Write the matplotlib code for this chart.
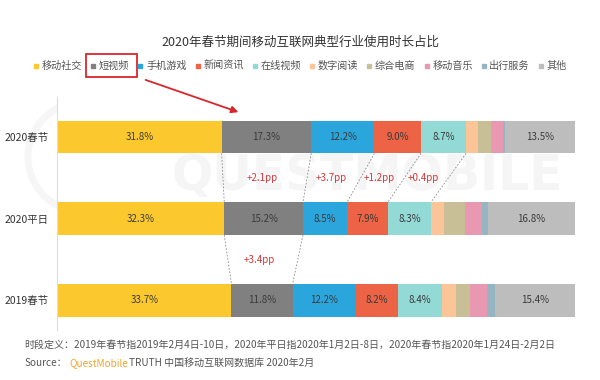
import numpy as np
import matplotlib
matplotlib.use('Agg')
import matplotlib.pyplot as plt
from matplotlib.patches import Rectangle, Ellipse, FancyArrowPatch
from matplotlib.lines import Line2D

plt.rcParams['font.family'] = ['Noto Sans CJK SC', 'DejaVu Sans']

# data (share of usage time, %)
periods = ['2020春节', '2020平日', '2019春节']
categories = ['移动社交', '短视频', '手机游戏', '新闻资讯', '在线视频',
              '数字阅读', '综合电商', '移动音乐', '出行服务', '其他']
share_2020_spring = [31.8, 17.3, 12.2, 9.0, 8.7, 2.4, 2.5, 2.2, 0.4, 13.5]
share_2020_weekday = [32.3, 15.2, 8.5, 7.9, 8.3, 2.5, 4.0, 3.4, 1.1, 16.8]
share_2019_spring = [33.7, 11.8, 12.2, 8.2, 8.4, 2.8, 2.7, 3.3, 1.5, 15.4]
colors = ['#FBC92D', '#808080', '#2BA6DD', '#EC6345', '#93DAD6',
          '#FBC597', '#C8BF97', '#E898B1', '#95B5C2', '#BDBDBE']
labeled = [0, 1, 2, 3, 4, 9]

# pp changes shown between rows: (upper row, lower row, category index, text)
changes = [(0, 1, 1, '+2.1pp'), (0, 1, 2, '+3.7pp'), (0, 1, 3, '+1.2pp'),
           (0, 1, 4, '+0.4pp'), (1, 2, 1, '+3.4pp')]
# boundaries joined with dashed lines: (upper row, lower row, number of segments before)
links = [(0, 1, 1), (0, 1, 2), (0, 1, 3), (0, 1, 4), (0, 1, 5),
         (1, 2, 1), (1, 2, 2)]

rows = [share_2020_spring, share_2020_weekday, share_2019_spring]
bar_h = 0.4

fig = plt.figure(figsize=(6, 3.8), dpi=100)
ax = fig.add_axes([0.095, 0.132, 0.863, 0.613])

# faint watermark
ax.text(0.60, 0.66, 'QUESTMOBILE', transform=ax.transAxes, ha='center', va='center',
        fontsize=35, color='#f5f5f5', fontweight='bold', family='DejaVu Sans', zorder=0)
fig.add_artist(Ellipse((83 / 600, 1 - 157 / 380), 110 / 600, 110 / 380,
                       transform=fig.transFigure, fill=False, lw=5, ec='#f6f6f6', zorder=0))

for r, vals in enumerate(rows):
    left = np.concatenate([[0], np.cumsum(vals)[:-1]])
    ax.barh(r, vals, left=left, height=bar_h, color=colors, zorder=2)
    for i in labeled:
        ax.text(left[i] + vals[i] / 2, r, f'{vals[i]:.1f}%', ha='center', va='center',
                fontsize=7, color='#3a3a3a', zorder=3)

for up, lo, k in links:
    x_up = sum(rows[up][:k])
    x_lo = sum(rows[lo][:k])
    ax.plot([x_up, x_lo], [up + bar_h / 2, lo - bar_h / 2], ls=(0, (2, 2)),
            lw=0.6, color='#8a8a8a', zorder=1)

for up, lo, i, txt in changes:
    mid_up = sum(rows[up][:i]) + rows[up][i] / 2
    mid_lo = sum(rows[lo][:i]) + rows[lo][i] / 2
    ax.text((mid_up + mid_lo) / 2 - 0.6, (up + lo) / 2, txt, ha='center', va='center',
            fontsize=7, color='#D5363A', zorder=3)

ax.set_xlim(0, 100)
ax.set_ylim(2.36, -0.49)
ax.set_yticks(range(len(periods)))
ax.set_yticklabels(periods, fontsize=7.5, color='#333333')
ax.tick_params(axis='y', length=0, pad=6)
ax.set_xticks([])
for s in ['top', 'right', 'bottom']:
    ax.spines[s].set_visible(False)
ax.spines['left'].set_color('#dddddd')
ax.spines['left'].set_linewidth(0.8)

fig.text(0.5, 1 - 42 / 380, '2020年春节期间移动互联网典型行业使用时长占比', ha='center',
         va='center', fontsize=9, color='#333333')

handles = [Line2D([], [], marker='s', ls='', color=c, markersize=3.5) for c in colors]
fig.legend(handles, categories, loc='center', bbox_to_anchor=(0.5, 1 - 66 / 380), ncol=10,
           frameon=False, fontsize=7.3, handlelength=0.6, handletextpad=0.25,
           columnspacing=0.8, labelcolor='#555555', borderaxespad=0)

# red highlight on the short-video legend entry
fig.patches.append(Rectangle((86 / 600, 1 - 77 / 380), 51 / 600, 23 / 380,
                             transform=fig.transFigure, fill=False, ec='#D9262B', lw=1.3))
fig.patches.append(FancyArrowPatch((143 / 600, 1 - 79 / 380), (241 / 600, 1 - 113 / 380),
                                   transform=fig.transFigure, arrowstyle='-|>',
                                   mutation_scale=10, color='#D9262B', lw=1.3))

fig.text(24 / 600, 1 - 345 / 380,
         '时段定义：2019年春节指2019年2月4日-10日，2020年平日指2020年1月2日-8日，2020年春节指2020年1月24日-2月2日',
         ha='left', va='center', fontsize=7.2, color='#555555')
fig.text(24 / 600, 1 - 363 / 380, 'Source：', ha='left', va='center', fontsize=7.2, color='#555555')
fig.text(69 / 600, 1 - 363 / 380, 'QuestMobile', ha='left', va='center', fontsize=7.2, color='#EFA62E')
fig.text(129 / 600, 1 - 363 / 380, 'TRUTH 中国移动互联网数据库 2020年2月', ha='left', va='center',
         fontsize=7.2, color='#555555')

fig.savefig('out.png', dpi=100, facecolor='white')
